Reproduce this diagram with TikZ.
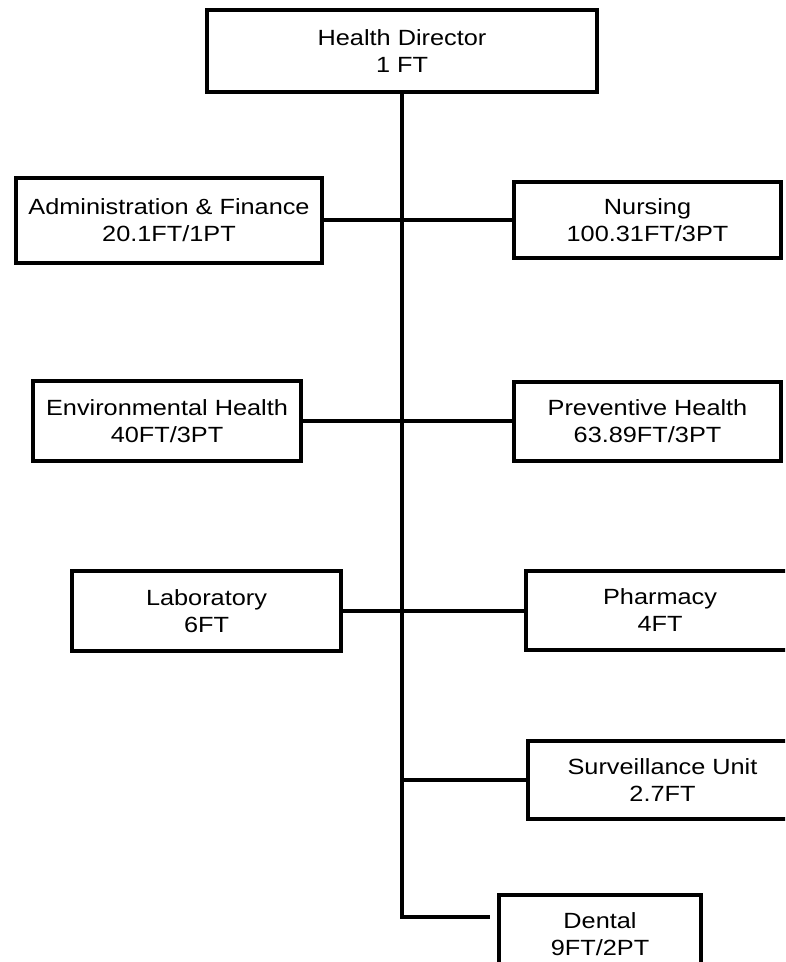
\documentclass[tikz,border=0pt]{standalone}
\usepackage{fontspec}
\newfontfamily\boxfont[FakeStretch=1.15]{Liberation Sans}
\begin{document}
\begin{tikzpicture}[x=0.75pt,y=-0.75pt,
  box/.style={draw=black, line width=3pt, rectangle, inner sep=0pt, align=center,
    font=\boxfont\fontsize{16.5}{20.25}\selectfont},
  conn/.style={draw=black, line width=3pt}]
\useasboundingbox (0,0) rectangle (785,962);
\clip (0,0) rectangle (785,962);
\fill[white] (0,0) rectangle (785,962);

\node[box, minimum width=390*0.75pt, minimum height=82*0.75pt] (hd) at (402,51) {Health Director\\1 FT};
\node[box, minimum width=306*0.75pt, minimum height=85*0.75pt] (admin) at (169,220.5) {Administration \& Finance\\20.1FT/1PT};
\node[box, minimum width=267*0.75pt, minimum height=76*0.75pt] (nursing) at (647.5,220) {Nursing\\100.31FT/3PT};
\node[box, minimum width=268*0.75pt, minimum height=80*0.75pt] (env) at (167,421) {Environmental Health\\40FT/3PT};
\node[box, minimum width=267*0.75pt, minimum height=79*0.75pt] (prev) at (647.5,421.5) {Preventive Health\\63.89FT/3PT};
\node[box, minimum width=269*0.75pt, minimum height=80*0.75pt] (lab) at (206.5,611) {Laboratory\\6FT};
\node[box, minimum width=268*0.75pt, minimum height=79*0.75pt] (pharm) at (660,610.5) {Pharmacy\\4FT};
\node[box, minimum width=269*0.75pt, minimum height=78*0.75pt] (surv) at (662.5,780) {Surveillance Unit\\2.7FT};
\node[box, minimum width=202*0.75pt, minimum height=78*0.75pt] (dental) at (600,934) {Dental\\9FT/2PT};

\coordinate (trunkend) at (402,917);
\coordinate (dentalend) at (490,917);

\draw[conn] (hd.south) -- (trunkend) -- (dentalend);
\draw[conn] (admin.east) -- (admin.east -| nursing.west);
\draw[conn] (env.east) -- (env.east -| prev.west);
\draw[conn] (lab.east) -- (lab.east -| pharm.west);
\draw[conn] (surv.west) -- (surv.west -| hd.south);
\end{tikzpicture}
\end{document}
